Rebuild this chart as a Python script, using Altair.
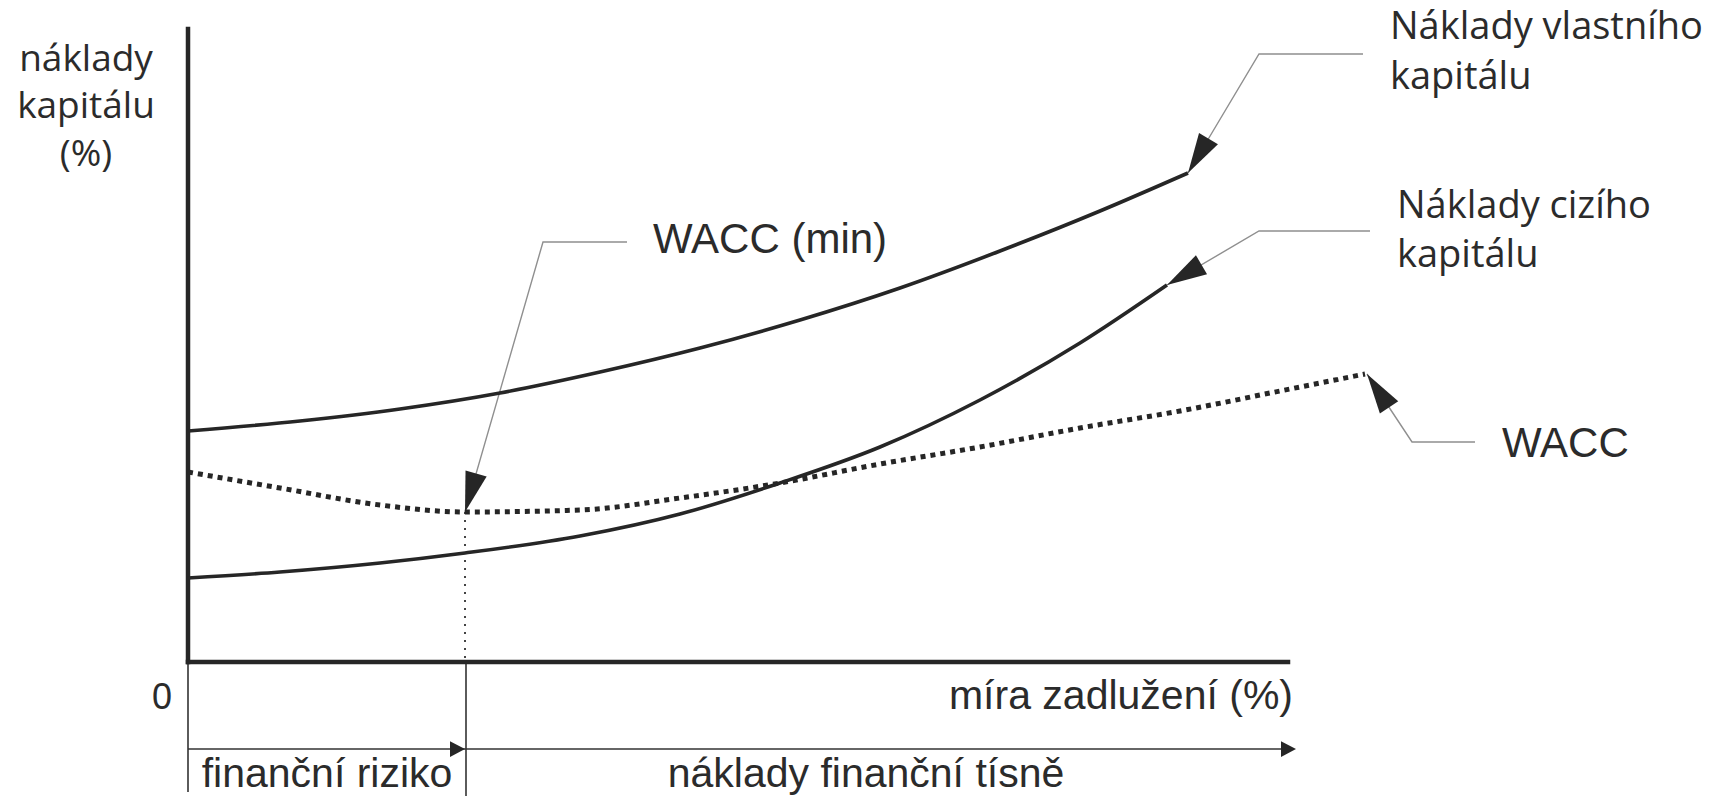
import math
import altair as alt
import pandas as pd

# ---- diagram coordinates (page pixels, y grows downward) ----
# cost of equity curve
equity_x = [188, 300, 400, 500, 600, 700, 800, 900, 1000, 1100, 1188]
equity_y = [431, 421, 409, 393, 372, 348, 320, 288, 251, 211, 173]
# cost of debt curve
debt_x = [188, 280, 380, 465, 580, 680, 780, 880, 980, 1080, 1167]
debt_y = [578, 572, 563, 553, 536, 514, 483, 447, 400, 343, 285]
# WACC curve (dotted)
wacc_x = [188, 280, 380, 465, 580, 680, 780, 880, 980, 1080, 1180, 1280, 1365]
wacc_y = [472, 488, 505, 512, 510, 498, 483, 464, 447, 428, 411, 391, 374]

# axes (thick)
axis_x1 = [188, 188]
axis_y1 = [29, 662]
axis_x2 = [188, 1288]
axis_y2 = [662, 662]
# thin guide lines: two verticals and the lower arrow line
thin_x1 = [188, 466, 188]
thin_y1 = [662, 662, 749]
thin_x2 = [188, 466, 1290]
thin_y2 = [792, 796, 749]
# dotted drop line from WACC minimum
drop_x = [465, 465]
drop_y = [512, 662]

# leader lines: (label end) -> (elbow) -> (arrow tip)
leader_names = ["vlastni", "cizi", "wacc", "wmin"]
leader_xs = [[1363, 1259, 1188], [1370, 1259, 1167], [1475, 1412, 1367], [627, 543, 465]]
leader_ys = [[54, 54, 173], [231, 231, 285], [442, 442, 374], [242, 242, 512]]

# small axis arrowheads (pointing right)
small_tip_x = [465, 1296]
small_tip_y = [749, 749]

# texts
lbl_left_text = ["Náklady vlastního", "kapitálu", "Náklady cizího", "kapitálu"]
lbl_left_x = [1390, 1390, 1397, 1397]
lbl_left_y = [39, 89, 218, 267]
wacc_text = ["WACC", "WACC (min)"]
wacc_tx = [1502, 653]
wacc_ty = [457, 253]
ytitle_text = ["náklady", "kapitálu", "(%)"]
ytitle_x = [86, 86, 86]
ytitle_y = [71, 118, 166]
bottom_text = ["finanční riziko", "náklady finanční tísně"]
bottom_x = [327, 866]
bottom_y = [787, 787]

INK = "#262626"
TXT = "#2b2b2b"
GRAY = "#8f8f8f"
FONT = "Liberation Sans"
WIDE_FONT = "Open Sans"

X = alt.X("x:Q", scale=alt.Scale(domain=[8, 1724], nice=False, zero=False), axis=None)
Y = alt.Y("y:Q", scale=alt.Scale(domain=[8, 796], nice=False, zero=False, reverse=True), axis=None)


def curve(xs, ys, name):
    return pd.DataFrame({"x": xs, "y": ys, "i": list(range(len(xs))), "s": name})


eq = curve(equity_x, equity_y, "eq")
de = curve(debt_x, debt_y, "de")
wa = curve(wacc_x, wacc_y, "wa")

solid = alt.Chart(pd.concat([eq, de])).mark_line(
    color=INK, strokeWidth=3.6, interpolate="monotone", strokeCap="butt"
).encode(x=X, y=Y, order="i:Q", detail="s:N")

dotted = alt.Chart(wa).mark_line(
    color=INK, strokeWidth=5, interpolate="monotone", strokeDash=[5, 5], strokeCap="butt"
).encode(x=X, y=Y, order="i:Q")

axes = alt.Chart(pd.DataFrame({"x": axis_x1, "y": axis_y1, "x2": axis_x2, "y2": axis_y2})).mark_rule(
    color=INK, strokeWidth=4.5, strokeCap="square"
).encode(x=X, y=Y, x2="x2:Q", y2="y2:Q")

thin = alt.Chart(pd.DataFrame({"x": thin_x1, "y": thin_y1, "x2": thin_x2, "y2": thin_y2})).mark_rule(
    color="#333333", strokeWidth=1.6
).encode(x=X, y=Y, x2="x2:Q", y2="y2:Q")

drop = alt.Chart(pd.DataFrame({"x": [drop_x[0]], "y": [drop_y[0]], "x2": [drop_x[1]], "y2": [drop_y[1]]})).mark_rule(
    color="#444444", strokeWidth=2, strokeDash=[2, 6]
).encode(x=X, y=Y, x2="x2:Q", y2="y2:Q")

rows = []
for name, xs, ys in zip(leader_names, leader_xs, leader_ys):
    for i, (x, y) in enumerate(zip(xs, ys)):
        rows.append({"x": x, "y": y, "i": i, "s": name})
leaders = alt.Chart(pd.DataFrame(rows)).mark_line(color=GRAY, strokeWidth=1.4).encode(
    x=X, y=Y, order="i:Q", detail="s:N"
)

# arrowheads along leader lines
HEAD_LEN = 40
heads = []
for xs, ys in zip(leader_xs, leader_ys):
    fx, fy, tx, ty = xs[-2], ys[-2], xs[-1], ys[-1]
    dx, dy = tx - fx, ty - fy
    L = math.hypot(dx, dy)
    ux, uy = dx / L, dy / L
    heads.append({
        "x": tx - ux * HEAD_LEN / 2,
        "y": ty - uy * HEAD_LEN / 2,
        "a": math.degrees(math.atan2(ux, -uy)) % 360,
    })
big_heads = alt.Chart(pd.DataFrame(heads)).mark_point(
    shape="M0,-1L0.55,1L-0.55,1Z", filled=True, size=HEAD_LEN ** 2, color=INK, opacity=1, strokeWidth=0
).encode(x=X, y=Y, angle=alt.Angle("a:Q", scale=None))

SMALL_LEN = 15
small = pd.DataFrame({"x": [v - SMALL_LEN / 2 for v in small_tip_x], "y": small_tip_y, "a": [90, 90]})
small_heads = alt.Chart(small).mark_point(
    shape="M0,-1L1.05,1L-1.05,1Z", filled=True, size=SMALL_LEN ** 2, color=INK, opacity=1, strokeWidth=0
).encode(x=X, y=Y, angle=alt.Angle("a:Q", scale=None))


def texts(xs, ys, labels, align, size, font=FONT):
    return alt.Chart(pd.DataFrame({"x": xs, "y": ys, "t": labels})).mark_text(
        align=align, baseline="alphabetic", font=font, fontSize=size, color=TXT
    ).encode(x=X, y=Y, text="t:N")


t_right = texts(lbl_left_x, lbl_left_y, lbl_left_text, "left", 38, WIDE_FONT)
t_wacc = texts(wacc_tx, wacc_ty, wacc_text, "left", 42)
t_ytitle = texts(ytitle_x, ytitle_y, ytitle_text, "center", 37, WIDE_FONT)
t_bottom = texts(bottom_x, bottom_y, bottom_text, "center", 41)
t_zero = texts([162], [709], ["0"], "center", 36)
t_xtitle = texts([1293], [709], ["míra zadlužení (%)"], "right", 41)

chart = alt.layer(
    leaders, thin, drop, axes, solid, dotted, big_heads, small_heads,
    t_right, t_wacc, t_ytitle, t_bottom, t_zero, t_xtitle,
).properties(
    width=1716, height=788, padding=0, background="white",
    autosize=alt.AutoSizeParams(type="none"),
).configure_view(stroke=None)

chart.save("out.html", embed_options={"renderer": "svg", "actions": False})
